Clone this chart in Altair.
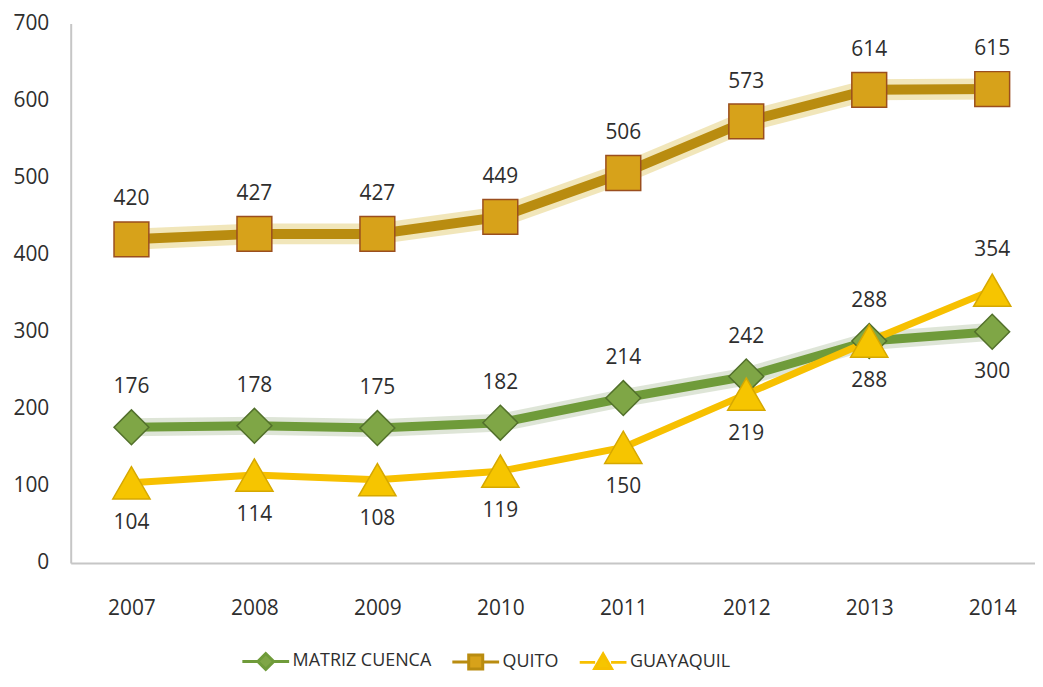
import altair as alt
import pandas as pd

years = [2007, 2008, 2009, 2010, 2011, 2012, 2013, 2014]
series_names = ["MATRIZ CUENCA", "QUITO", "GUAYAQUIL"]
cuenca = [176, 178, 175, 182, 214, 242, 288, 300]
quito = [420, 427, 427, 449, 506, 573, 614, 615]
guayaquil = [104, 114, 108, 119, 150, 219, 288, 354]
y_ticks = [0, 100, 200, 300, 400, 500, 600, 700]

line_colors = ["#6f9b3a", "#b98c10", "#f7c000"]
fill_colors = ["#7fa646", "#d7a21a", "#f6c500"]
edge_colors = ["#52702b", "#9a4e1e", "#d6a800"]

rows = []
for i, yr in enumerate(years):
    for name, vals in zip(series_names, [cuenca, quito, guayaquil]):
        v = vals[i]
        if name == "QUITO":
            above = True
        elif name == "MATRIZ CUENCA":
            above = v >= guayaquil[i]
        else:
            above = v > cuenca[i]
        rows.append({"year": yr, "series": name, "value": v, "above": above})
df = pd.DataFrame(rows)

FONT = "Open Sans"

x = alt.X("year:Q",
          scale=alt.Scale(domain=[2006.506, 2014.348], nice=False, zero=False),
          axis=alt.Axis(values=years, format="d", title=None, labelPadding=35))
y = alt.Y("value:Q",
          scale=alt.Scale(domain=[0, 700], nice=False),
          axis=alt.Axis(values=y_ticks, title=None, labelPadding=22))

base = alt.Chart(df).encode(x=x, y=y)

def only(name):
    return alt.datum.series == name

layers = []
# glows
layers.append(base.transform_filter(only("QUITO")).mark_line(
    strokeWidth=21, color="#ecdda3", opacity=0.75))
layers.append(base.transform_filter(only("MATRIZ CUENCA")).mark_line(
    strokeWidth=18, color="#c3cfb6", opacity=0.55))
# lines
layers.append(base.transform_filter(only("QUITO")).mark_line(
    strokeWidth=10, color=line_colors[1]))
layers.append(base.transform_filter(only("MATRIZ CUENCA")).mark_line(
    strokeWidth=9, color=line_colors[0]))
layers.append(base.transform_filter(only("GUAYAQUIL")).mark_line(
    strokeWidth=7, color=line_colors[2]))
# markers
layers.append(base.transform_filter(only("QUITO")).mark_point(
    shape="square", size=1225, filled=True, fill=fill_colors[1],
    stroke=edge_colors[1], strokeWidth=1.5, opacity=1))
layers.append(base.transform_filter(only("MATRIZ CUENCA")).mark_point(
    shape="diamond", size=1225, filled=True, fill=fill_colors[0],
    stroke=edge_colors[0], strokeWidth=1.5, opacity=1))
layers.append(base.transform_filter(only("GUAYAQUIL")).mark_point(
    shape="triangle-up", size=1400, filled=True, fill=fill_colors[2],
    stroke=edge_colors[2], strokeWidth=1.5, opacity=1))
# labels
layers.append(base.transform_filter(alt.datum.above).mark_text(
    dy=-40, font=FONT, fontSize=21, color="#2e2e2e").encode(text="value:Q"))
layers.append(base.transform_filter(~alt.datum.above).mark_text(
    dy=40, font=FONT, fontSize=21, color="#2e2e2e").encode(text="value:Q"))

# legend-only layer
legend_paths = [
    "M-1,0H-0.34M0.34,0H1M-0.34,0L0,-0.34L0.34,0L0,0.34Z",
    "M-1,0H-0.3M0.3,0H1M-0.3,-0.3H0.3V0.3H-0.3Z",
    "M-1,0H-0.34M0.34,0H1M0,-0.36L0.36,0.26H-0.36Z",
]
leg = alt.Legend(title=None, orient="none", legendX=171, legendY=616,
                 direction="horizontal", symbolSize=2209, symbolStrokeWidth=3,
                 labelFont=FONT, labelFontSize=18, labelColor="#2e2e2e",
                 labelOffset=2, columnPadding=14)
layers.append(alt.Chart(df).transform_filter("false").mark_point(
    filled=False, opacity=1).encode(
    x=x, y=y,
    stroke=alt.Stroke("series:N", scale=alt.Scale(domain=series_names, range=line_colors), legend=leg),
    fill=alt.Fill("series:N", scale=alt.Scale(domain=series_names, range=fill_colors), legend=leg),
    shape=alt.Shape("series:N", scale=alt.Scale(domain=series_names, range=legend_paths), legend=leg),
))

chart = alt.layer(*layers).properties(
    width=969, height=542,
    autosize=alt.AutoSizeParams(type="none"),
    padding={"left": 63, "top": 14, "right": 0, "bottom": 110},
).configure_view(stroke=None).configure_axis(
    domainColor="#c6c6c6", domainWidth=2, ticks=False, grid=False,
    labelFont=FONT, labelFontSize=21, labelColor="#2e2e2e",
)

chart.save("out.html", embed_options={"renderer": "svg", "actions": False})
